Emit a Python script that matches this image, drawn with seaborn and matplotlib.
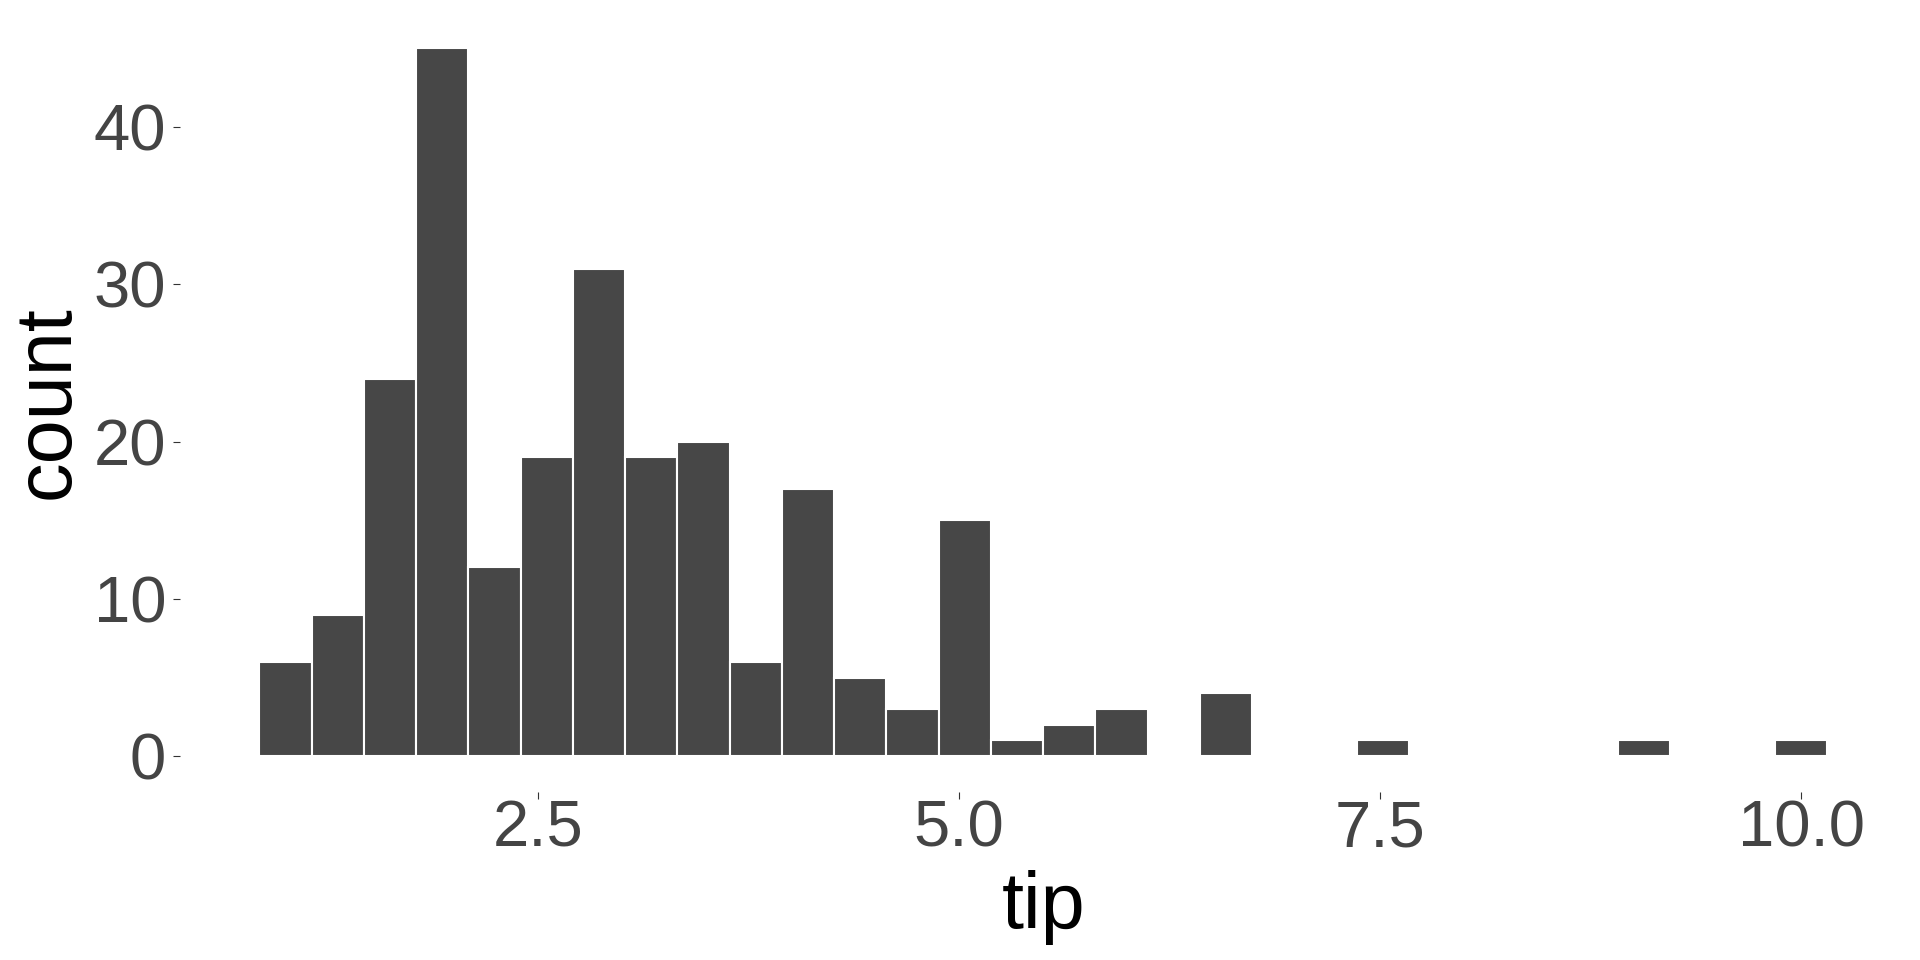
import numpy as np
import pandas as pd
import matplotlib
matplotlib.use("Agg")
import matplotlib.pyplot as plt
import seaborn as sns

# tip histogram, 30 bins (ggplot style)
bin_centers = [1.00, 1.31, 1.62, 1.93, 2.24, 2.55, 2.86, 3.17, 3.48, 3.79,
               4.10, 4.41, 4.72, 5.03, 5.34, 5.66, 5.97, 6.28, 6.59, 6.90,
               7.21, 7.52, 7.83, 8.14, 8.45, 8.76, 9.07, 9.38, 9.69, 10.00]
counts = [6, 9, 24, 45, 12, 19, 31, 19, 20, 6,
          17, 5, 3, 15, 1, 2, 3, 0, 4, 0,
          0, 1, 0, 0, 0, 0, 1, 0, 0, 1]
x_ticks = [2.5, 5.0, 7.5, 10.0]
x_ticklabels = ["2.5", "5.0", "7.5", "10.0"]
y_ticks = [0, 10, 20, 30, 40]

bin_width = 9 / 29
df = pd.DataFrame({"tip": bin_centers, "n": counts})

sns.set_style("white")
plt.rcParams['font.family'] = ['Liberation Sans', 'DejaVu Sans']

fig = plt.figure(figsize=(19.2, 9.6), dpi=100)
ax = fig.add_axes([0.09375, 0.1755, 0.8992, 0.8109])

sns.histplot(data=df, x="tip", weights="n", binwidth=bin_width,
             binrange=(bin_centers[0] - bin_width / 2, bin_centers[-1] + bin_width / 2),
             ax=ax, color="#474747", edgecolor="white", linewidth=1.5, alpha=1)

ax.set_xlim(0.374, 10.626)
ax.set_ylim(-2.25, 47.25)
ax.set_xticks(x_ticks)
ax.set_xticklabels(x_ticklabels)
ax.set_yticks(y_ticks)
for s in ax.spines.values():
    s.set_visible(False)
ax.grid(False)

ax.tick_params(axis="both", labelsize=47, labelcolor="#444444", color="#333333",
               length=5, width=0.8, direction="out", bottom=True, left=True)
ax.tick_params(axis="x", pad=1)
ax.tick_params(axis="y", pad=5)
ax.set_xlabel("tip", fontsize=57, color="black", labelpad=7)
ax.set_ylabel("count", fontsize=57, color="black", labelpad=6)

plt.savefig("out.png", dpi=100, facecolor="white")
